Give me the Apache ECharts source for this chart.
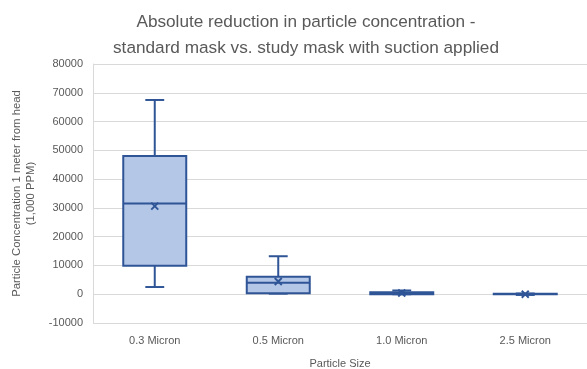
<!DOCTYPE html>
<html><head><meta charset="utf-8">
<script src="https://cdn.jsdelivr.net/npm/echarts@6/dist/echarts.min.js"></script>
<style>html,body{margin:0;padding:0;background:#fff}#c{width:587px;height:369px}</style>
</head><body><div id="c"></div>
<script>
var categories = ['0.3 Micron', '0.5 Micron', '1.0 Micron', '2.5 Micron'];
var whiskerLow = [2500, 200, 0, -250];
var q1 = [9900, 300, 0, -50];
var median = [31500, 4000, 400, 50];
var q3 = [48000, 6100, 700, 150];
var whiskerHigh = [67500, 13200, 1300, 250];
var means = [30600, 4400, 450, 0];
var yTicks = [-10000, 0, 10000, 20000, 30000, 40000, 50000, 60000, 70000, 80000];

var boxData = categories.map(function (c, i) {
  return [i, whiskerLow[i], q1[i], median[i], q3[i], whiskerHigh[i], means[i]];
});
var DARK = '#2f5597', FILL = '#b4c7e7', TXT = '#595959';

var chart = echarts.init(document.getElementById('c'), null, {renderer: 'canvas'});
chart.setOption({
  animation: false,
  textStyle: {fontFamily: 'Liberation Sans'},
  title: {
    text: 'Absolute reduction in particle concentration -\nstandard mask vs. study mask with suction applied',
    left: 301, top: 4, textAlign: 'center',
    textStyle: {fontSize: 17.2, fontWeight: 'normal', color: TXT, lineHeight: 26, fontFamily: 'Liberation Sans'}
  },
  grid: {left: 93, right: 0, top: 64, bottom: 46, containLabel: false, outerBoundsMode: 'none'},
  xAxis: {
    type: 'category', data: categories,
    name: 'Particle Size', nameLocation: 'middle', nameGap: 35,
    nameTextStyle: {fontSize: 11, color: TXT},
    axisLine: {show: false}, axisTick: {show: false},
    axisLabel: {fontSize: 11, color: TXT, margin: 12}
  },
  yAxis: {
    type: 'value', min: yTicks[0], max: yTicks[yTicks.length - 1], interval: 10000,
    name: 'Particle Concentration 1 meter from head\n(1,000 PPM)',
    nameLocation: 'middle', nameGap: 54, nameRotate: 90,
    nameTextStyle: {fontSize: 11.3, color: TXT, lineHeight: 14},
    axisLine: {show: true, lineStyle: {color: '#d9d9d9'}}, axisTick: {show: false},
    axisLabel: {fontSize: 11, color: TXT, margin: 10, formatter: function (v) { return String(v); }},
    splitLine: {lineStyle: {color: '#d9d9d9', width: 1}}
  },
  series: [{
    type: 'custom',
    data: boxData,
    encode: {x: 0, y: [1, 2, 3, 4, 5, 6]},
    renderItem: function (params, api) {
      var i = api.value(0);
      var bw = api.size([1, 0])[0] * 0.51;
      var cw = bw * 0.3;
      var cx = api.coord([i, 0])[0];
      var yLo = api.coord([i, api.value(1)])[1];
      var yQ1 = api.coord([i, api.value(2)])[1];
      var yMed = api.coord([i, api.value(3)])[1];
      var yQ3 = api.coord([i, api.value(4)])[1];
      var yHi = api.coord([i, api.value(5)])[1];
      var yMean = api.coord([i, api.value(6)])[1];
      var ls = {stroke: DARK, lineWidth: 2, fill: null};
      var m = 3.5;
      return {type: 'group', children: [
        {type: 'line', shape: {x1: cx, y1: yHi, x2: cx, y2: yQ3}, style: ls},
        {type: 'line', shape: {x1: cx, y1: yQ1, x2: cx, y2: yLo}, style: ls},
        {type: 'line', shape: {x1: cx - cw / 2, y1: yHi, x2: cx + cw / 2, y2: yHi}, style: ls},
        {type: 'line', shape: {x1: cx - cw / 2, y1: yLo, x2: cx + cw / 2, y2: yLo}, style: ls},
        {type: 'rect', shape: {x: cx - bw / 2, y: yQ3, width: bw, height: Math.max(yQ1 - yQ3, 0.5)},
          style: {fill: FILL, stroke: DARK, lineWidth: 2}},
        {type: 'line', shape: {x1: cx - bw / 2, y1: yMed, x2: cx + bw / 2, y2: yMed}, style: ls},
        {type: 'line', shape: {x1: cx - m, y1: yMean - m, x2: cx + m, y2: yMean + m}, style: {stroke: DARK, lineWidth: 2}},
        {type: 'line', shape: {x1: cx - m, y1: yMean + m, x2: cx + m, y2: yMean - m}, style: {stroke: DARK, lineWidth: 2}}
      ]};
    }
  }]
});
</script></body></html>
